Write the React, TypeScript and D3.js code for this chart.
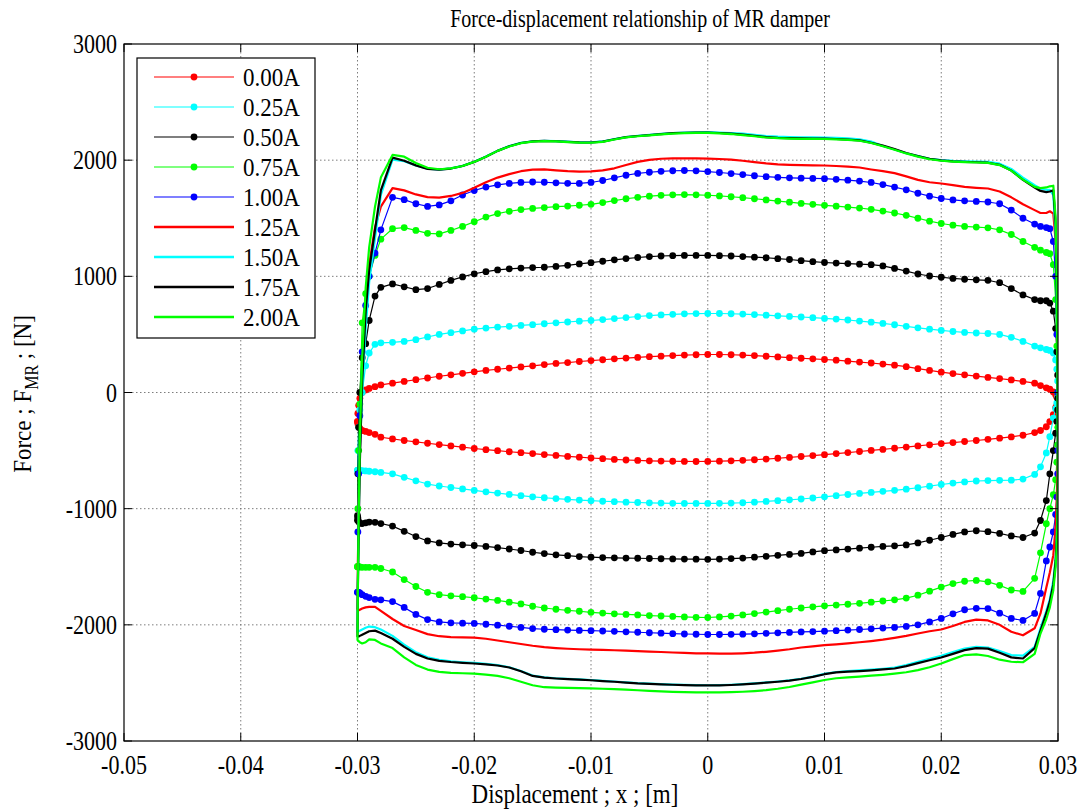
import React from "react";
import * as d3 from "d3";

const W = 1083;
const H = 811;
const PL = 124, PR = 1058, PT = 44, PB = 741;

const X_TICKS = [-0.05, -0.04, -0.03, -0.02, -0.01, 0, 0.01, 0.02, 0.03];
const X_TICK_LABELS = ["-0.05", "-0.04", "-0.03", "-0.02", "-0.01", "0", "0.01", "0.02", "0.03"];
const Y_TICKS = [-3000, -2000, -1000, 0, 1000, 2000, 3000];
const Y_TICK_LABELS = ["-3000", "-2000", "-1000", "0", "1000", "2000", "3000"];

// displacement grid (m), shared by every branch, left to right
const X_GRID = [
  -0.03, -0.02997, -0.0299, -0.0298, -0.0296, -0.0293, -0.029, -0.0285,
  -0.028, -0.027, -0.026, -0.025, -0.024, -0.023, -0.022, -0.021, -0.02, -0.019, -0.018, -0.017, -0.016, -0.015, -0.014,
  -0.013, -0.012, -0.011, -0.01, -0.009, -0.008, -0.007, -0.006, -0.005, -0.004, -0.003, -0.002, -0.001,
  0,
  0.001, 0.002, 0.003, 0.004, 0.005, 0.006, 0.007, 0.008, 0.009, 0.01, 0.011, 0.012, 0.013, 0.014,
  0.015, 0.016, 0.017, 0.018, 0.019, 0.02, 0.021, 0.022, 0.023, 0.024, 0.025, 0.026, 0.027, 0.028,
  0.0285, 0.029, 0.0293, 0.0296, 0.0298, 0.0299, 0.02997, 0.03,
];

// 0.00A
const A000_UP = [
  -250, -180, -110, -50, 0, 22, 35, 50,
  65, 80, 95, 110, 125, 140, 152, 165, 178, 190, 200, 210, 220, 230, 240, 250, 258, 267, 275, 282, 290, 296, 302, 308, 313, 318, 322, 325,
  327,
  327, 325, 322, 318, 312, 306, 300, 295, 290, 284, 278, 270, 262, 254, 245, 235, 222, 205, 190, 175, 163, 152, 141, 130, 120, 108, 95, 80,
  60, 40, 28, 5, -20, -40, -60, -80,
];
const A000_LO = [
  -250, -270, -290, -310, -327, -335, -345, -360,
  -385, -400, -413, -425, -437, -448, -460, -471, -482, -492, -501, -510, -518, -526, -534, -542, -550, -557, -564, -570, -576, -581, -585, -588, -590, -592, -593, -594,
  -593,
  -591, -588, -584, -579, -573, -566, -559, -551, -543, -535, -526, -517, -508, -499, -490, -480, -470, -460, -450, -440, -431, -422, -413, -403, -393, -382, -368, -345,
  -327, -295, -250, -190, -130, -110, -95, -80,
];
// 0.25A
const A025_UP = [
  -670, -500, -300, -150, 0, 230, 340, 415,
  428, 432, 440, 455, 478, 500, 515, 530, 545, 555, 563, 570, 577, 584, 592, 600, 607, 614, 620, 628, 636, 645, 654, 662, 668, 673, 677, 679,
  680,
  680, 678, 675, 671, 666, 660, 655, 650, 644, 638, 632, 624, 615, 605, 595, 583, 570, 557, 545, 534, 525, 517, 512, 508, 500, 475, 440, 400,
  385, 370, 362, 340, 280, 200, 100, 0,
];
const A025_LO = [
  -670, -670, -670, -671, -672, -675, -678, -682,
  -688, -700, -730, -760, -788, -805, -818, -830, -843, -855, -866, -877, -888, -898, -906, -913, -920, -926, -931, -936, -940, -944, -947, -950, -952, -954, -955, -955,
  -955,
  -954, -952, -949, -944, -938, -931, -924, -917, -908, -898, -888, -878, -869, -860, -851, -842, -832, -820, -806, -792, -780, -770, -762, -758, -756, -755, -745, -705,
  -640, -520, -380, -220, -140, -90, -40, 0,
];
// 0.50A
const A050_UP = [
  -1100, -700, -300, 0, 300, 420, 620, 830,
  905, 935, 910, 885, 895, 930, 965, 995, 1022, 1040, 1055, 1065, 1071, 1075, 1078, 1085, 1095, 1107, 1118, 1130, 1142, 1153, 1162, 1170, 1175, 1178, 1180, 1180,
  1180,
  1178, 1175, 1170, 1165, 1160, 1152, 1145, 1135, 1126, 1119, 1114, 1110, 1105, 1100, 1090, 1068, 1045, 1020, 1003, 992, 982, 975, 970, 966, 945, 895, 840, 800,
  790, 790, 770, 700, 550, 350, 150, -50,
];
const A050_LO = [
  -1060, -1080, -1110, -1125, -1128, -1122, -1115, -1118,
  -1128, -1150, -1195, -1240, -1278, -1295, -1305, -1311, -1317, -1325, -1335, -1347, -1360, -1375, -1387, -1397, -1405, -1412, -1418, -1421, -1423, -1425, -1427, -1429, -1431, -1433, -1434, -1435,
  -1436,
  -1434, -1430, -1425, -1418, -1410, -1402, -1394, -1385, -1372, -1362, -1355, -1348, -1340, -1332, -1325, -1320, -1312, -1295, -1272, -1248, -1222, -1200, -1190, -1198, -1213, -1235, -1248, -1210,
  -1102, -930, -700, -500, -350, -250, -150, -50,
];
// 0.75A
const A075_UP = [
  -1500, -1000, -500, -100, 600, 850, 1000, 1180,
  1320, 1410, 1420, 1395, 1370, 1365, 1395, 1430, 1470, 1510, 1540, 1560, 1575, 1585, 1592, 1600, 1605, 1612, 1620, 1635, 1652, 1668, 1680, 1690, 1697, 1702, 1704, 1702,
  1698,
  1692, 1685, 1677, 1668, 1658, 1648, 1638, 1628, 1620, 1611, 1604, 1596, 1588, 1577, 1562, 1545, 1525, 1500, 1475, 1455, 1440, 1430, 1424, 1418, 1400, 1360, 1300, 1250,
  1225, 1205, 1195, 1100, 800, 400, 0, -300,
];
const A075_LO = [
  -1500, -1500, -1500, -1502, -1505, -1505, -1505, -1505,
  -1515, -1545, -1610, -1670, -1720, -1740, -1750, -1758, -1767, -1778, -1790, -1805, -1820, -1840, -1855, -1866, -1875, -1883, -1892, -1899, -1905, -1910, -1915, -1920, -1924, -1928, -1932, -1935,
  -1937,
  -1932, -1925, -1915, -1903, -1890, -1878, -1866, -1855, -1845, -1836, -1830, -1823, -1815, -1805, -1795, -1785, -1770, -1745, -1710, -1675, -1645, -1625, -1618, -1630, -1660, -1700, -1712, -1600,
  -1380, -1130, -1000, -880, -750, -600, -450, -300,
];
// 1.00A
const A100_UP = [
  -1720, -1200, -700, -200, 350, 750, 1000, 1200,
  1400, 1680, 1660, 1625, 1602, 1615, 1650, 1700, 1739, 1768, 1788, 1800, 1808, 1812, 1810, 1805, 1801, 1800, 1808, 1825, 1848, 1870, 1886, 1896, 1904, 1909, 1911, 1908,
  1902,
  1894, 1885, 1876, 1866, 1858, 1852, 1848, 1845, 1843, 1841, 1835, 1828, 1820, 1808, 1790, 1768, 1745, 1715, 1690, 1670, 1658, 1650, 1645, 1640, 1625, 1570, 1500, 1450,
  1430, 1420, 1410, 1300, 1000, 500, 0, -500,
];
const A100_LO = [
  -1720, -1720, -1720, -1725, -1740, -1755, -1765, -1780,
  -1785, -1800, -1850, -1910, -1955, -1975, -1983, -1986, -1988, -1995, -2003, -2012, -2022, -2032, -2038, -2042, -2045, -2048, -2050, -2053, -2056, -2060, -2064, -2068, -2072, -2076, -2079, -2081,
  -2083,
  -2083, -2082, -2080, -2077, -2073, -2069, -2065, -2061, -2058, -2055, -2050, -2045, -2040, -2034, -2028, -2022, -2014, -2000, -1975, -1945, -1905, -1870, -1858, -1860, -1900, -1945, -1962, -1902,
  -1730, -1450, -1330, -1200, -1050, -900, -700, -500,
];
// 1.25A
const A125_UP = [
  -1860, -1500, -1000, -500, 100, 700, 1100, 1420,
  1600, 1760, 1740, 1705, 1682, 1678, 1692, 1718, 1762, 1810, 1850, 1880, 1905, 1918, 1920, 1912, 1905, 1902, 1903, 1912, 1930, 1958, 1985, 2003, 2012, 2015, 2016, 2016,
  2014,
  2010, 2004, 1995, 1983, 1972, 1964, 1960, 1957, 1955, 1954, 1950, 1945, 1937, 1920, 1905, 1888, 1860, 1830, 1810, 1799, 1785, 1770, 1762, 1756, 1730, 1680, 1620, 1570,
  1545, 1545, 1560, 1540, 1300, 900, 300, -300,
];
const A125_LO = [
  -1860, -1870, -1875, -1870, -1860, -1850, -1845, -1845,
  -1880, -1950, -2010, -2045, -2080, -2098, -2105, -2108, -2110, -2120, -2135, -2150, -2165, -2180, -2192, -2200, -2206, -2210, -2213, -2216, -2219, -2222, -2226, -2230, -2234, -2238, -2242, -2245,
  -2246,
  -2248, -2248, -2245, -2240, -2232, -2222, -2210, -2195, -2185, -2175, -2168, -2160, -2150, -2140, -2128, -2112, -2095, -2075, -2055, -2040, -2010, -1975, -1955, -1962, -2000, -2060, -2090, -2030,
  -1902, -1678, -1550, -1400, -1150, -900, -600, -300,
];
// 1.50A
const A150_UP = [
  -2060, -1650, -1100, -500, 0, 550, 950, 1330,
  1700, 2005, 1992, 1955, 1926, 1919, 1929, 1951, 1986, 2031, 2081, 2121, 2149, 2163, 2167, 2164, 2159, 2154, 2153, 2161, 2181, 2199, 2209, 2217, 2227, 2234, 2238, 2240,
  2241,
  2238, 2234, 2228, 2219, 2208, 2202, 2199, 2197, 2196, 2195, 2192, 2187, 2180, 2160, 2122, 2092, 2060, 2035, 2012, 2001, 1994, 1990, 1988, 1985, 1970, 1925, 1850, 1785,
  1755, 1745, 1745, 1700, 1350, 700, -100, -800,
];
const A150_LO = [
  -2060, -2058, -2055, -2050, -2040, -2025, -2015, -2020,
  -2040, -2095, -2170, -2235, -2280, -2302, -2315, -2322, -2328, -2336, -2347, -2365, -2398, -2437, -2452, -2460, -2465, -2470, -2475, -2482, -2488, -2495, -2502, -2506, -2510, -2514, -2517, -2519,
  -2520,
  -2519, -2516, -2511, -2504, -2496, -2488, -2478, -2464, -2446, -2422, -2406, -2398, -2392, -2386, -2378, -2368, -2346, -2318, -2292, -2266, -2235, -2205, -2190, -2195, -2225, -2260, -2265, -2190,
  -2030, -1880, -1780, -1620, -1420, -1220, -980, -800,
];
// 1.75A
const A175_UP = [
  -2100, -1700, -1200, -600, 100, 700, 1050, 1400,
  1740, 2022, 1995, 1955, 1925, 1918, 1928, 1950, 1985, 2030, 2080, 2120, 2148, 2162, 2166, 2163, 2158, 2153, 2152, 2160, 2180, 2198, 2208, 2215, 2225, 2232, 2236, 2238,
  2238,
  2234, 2228, 2220, 2210, 2198, 2192, 2189, 2187, 2186, 2185, 2182, 2177, 2170, 2150, 2125, 2095, 2062, 2035, 2012, 1998, 1990, 1985, 1982, 1978, 1960, 1910, 1830, 1765,
  1735, 1725, 1730, 1740, 1450, 800, 0, -700,
];
const A175_LO = [
  -2100, -2100, -2100, -2095, -2085, -2070, -2055, -2050,
  -2070, -2120, -2190, -2250, -2290, -2310, -2320, -2327, -2333, -2340, -2350, -2367, -2400, -2440, -2455, -2462, -2467, -2472, -2477, -2484, -2490, -2497, -2504, -2508, -2512, -2516, -2519, -2521,
  -2522,
  -2521, -2518, -2513, -2506, -2498, -2490, -2480, -2466, -2448, -2425, -2410, -2403, -2398, -2392, -2384, -2376, -2355, -2330, -2305, -2281, -2250, -2218, -2200, -2205, -2240, -2280, -2290, -2200,
  -2049, -1900, -1800, -1650, -1450, -1250, -1000, -700,
];
// 2.00A
const A200_UP = [
  -2130, -1700, -1100, -400, 300, 900, 1250, 1600,
  1850, 2045, 2030, 1975, 1935, 1922, 1930, 1950, 1985, 2030, 2080, 2118, 2146, 2160, 2164, 2161, 2156, 2151, 2150, 2158, 2178, 2196, 2206, 2213, 2222, 2229, 2233, 2235,
  2235,
  2231, 2225, 2216, 2206, 2195, 2189, 2186, 2184, 2183, 2182, 2179, 2174, 2167, 2148, 2120, 2090, 2058, 2030, 2008, 1995, 1988, 1983, 1980, 1976, 1958, 1910, 1832, 1770,
  1760, 1765, 1775, 1780, 1500, 900, 0, -700,
];
const A200_LO = [
  -2130, -2135, -2140, -2150, -2160, -2150, -2125, -2130,
  -2160, -2200, -2280, -2345, -2385, -2405, -2413, -2417, -2420, -2428, -2440, -2460, -2490, -2520, -2537, -2540, -2542, -2544, -2547, -2550, -2554, -2558, -2563, -2568, -2573, -2577, -2580, -2582,
  -2582,
  -2582, -2580, -2576, -2570, -2562, -2550, -2535, -2515, -2495, -2475, -2460, -2452, -2445, -2438, -2430, -2420, -2408, -2390, -2365, -2333, -2295, -2260, -2255, -2268, -2300, -2318, -2322, -2250,
  -2075, -1950, -1850, -1700, -1500, -1300, -1000, -700,
];

const LABELS = ["0.00A", "0.25A", "0.50A", "0.75A", "1.00A", "1.25A", "1.50A", "1.75A", "2.00A"];
const COLORS = ["#ff0000", "#00ffff", "#000000", "#00ff00", "#0000ff", "#ff0000", "#00ffff", "#000000", "#00ff00"];
const MARKED = [true, true, true, true, true, false, false, false, false];
const UPPER = [A000_UP, A025_UP, A050_UP, A075_UP, A100_UP, A125_UP, A150_UP, A175_UP, A200_UP];
const LOWER = [A000_LO, A025_LO, A050_LO, A075_LO, A100_LO, A125_LO, A150_LO, A175_LO, A200_LO];

const FONT = "'Liberation Serif', 'Times New Roman', serif";

function SText(props: { x: number; y: number; sy: number; size: number; anchor?: string; children: React.ReactNode }) {
  const { x, y, sy, size, anchor, children } = props;
  return (
    <text transform={`translate(${x},${y}) scale(1,${sy})`} textAnchor={anchor || "start"} fontSize={size} fill="#000">
      {children}
    </text>
  );
}

export default function App() {
  const x = d3.scaleLinear().domain([-0.05, 0.03]).range([PL, PR]);
  const y = d3.scaleLinear().domain([-3000, 3000]).range([PB, PT]);
  const line = d3
    .line<[number, number]>()
    .x((d) => x(d[0]))
    .y((d) => y(d[1]));

  const series = LABELS.map((label, i) => {
    const up: [number, number][] = X_GRID.map((xv, k) => [xv, UPPER[i][k]]);
    const lo: [number, number][] = X_GRID.map((xv, k) => [xv, LOWER[i][k]]).reverse() as [number, number][];
    const pts = [...up, ...lo];
    return { label, color: COLORS[i], marked: MARKED[i], pts, d: (line(pts) || "") + "Z" };
  });

  const tickLen = 8;
  const legX = 137, legY = 58, legW = 178, legH = 280;

  return (
    <svg width={W} height={H} style={{ position: "absolute", left: 0, top: 0, background: "#fff" }} fontFamily={FONT}>
      <rect x={0} y={0} width={W} height={H} fill="#fff" />
      <defs>
        <clipPath id="plotclip">
          <rect x={PL} y={PT} width={PR - PL} height={PB - PT} />
        </clipPath>
      </defs>
      {/* grid */}
      <g stroke="#6e6e6e" strokeWidth={0.9} strokeDasharray="1.5,2.5">
        {X_TICKS.slice(1, -1).map((t) => (
          <line key={"gx" + t} x1={x(t)} x2={x(t)} y1={PT} y2={PB} />
        ))}
        {Y_TICKS.slice(1, -1).map((t) => (
          <line key={"gy" + t} x1={PL} x2={PR} y1={y(t)} y2={y(t)} />
        ))}
      </g>
      {/* curves */}
      <g clipPath="url(#plotclip)">
        {series.map((s) => (
          <g key={s.label}>
            <path d={s.d} fill="none" stroke={s.color} strokeWidth={s.marked ? 1.2 : 2.2} strokeLinejoin="round" />
            {s.marked &&
              s.pts.map((p, k) => <circle key={k} cx={x(p[0])} cy={y(p[1])} r={3.4} fill={s.color} />)}
          </g>
        ))}
      </g>
      {/* box and ticks */}
      <rect x={PL} y={PT} width={PR - PL} height={PB - PT} fill="none" stroke="#000" strokeWidth={1.2} />
      <g stroke="#000" strokeWidth={1}>
        {X_TICKS.map((t) => (
          <g key={"tx" + t}>
            <line x1={x(t)} x2={x(t)} y1={PB} y2={PB - tickLen} />
            <line x1={x(t)} x2={x(t)} y1={PT} y2={PT + tickLen} />
          </g>
        ))}
        {Y_TICKS.map((t) => (
          <g key={"ty" + t}>
            <line x1={PL} x2={PL + tickLen} y1={y(t)} y2={y(t)} />
            <line x1={PR} x2={PR - tickLen} y1={y(t)} y2={y(t)} />
          </g>
        ))}
      </g>
      {/* tick labels */}
      {X_TICKS.map((t, i) => (
        <SText key={"lx" + t} x={x(t)} y={PB + 33} sy={1.25} size={22} anchor="middle">
          {X_TICK_LABELS[i]}
        </SText>
      ))}
      {Y_TICKS.map((t, i) => (
        <SText key={"ly" + t} x={PL - 7} y={y(t) + 9} sy={1.25} size={22} anchor="end">
          {Y_TICK_LABELS[i]}
        </SText>
      ))}
      {/* title and axis labels */}
      <SText x={640} y={27} sy={1.25} size={20} anchor="middle">
        Force-displacement relationship of MR damper
      </SText>
      <SText x={575} y={803} sy={1.2} size={23} anchor="middle">
        Displacement ; x ; [m]
      </SText>
      <text transform="translate(31,394) rotate(-90) scale(1,1.12)" textAnchor="middle" fontSize={23} fill="#000">
        Force ; F<tspan fontSize={16} dy={6}>MR</tspan>
        <tspan dy={-6}> ; [N]</tspan>
      </text>
      {/* legend */}
      <rect x={legX} y={legY} width={legW} height={legH} fill="#fff" stroke="#000" strokeWidth={1.2} />
      {series.map((s, i) => {
        const ly = 77 + i * 30;
        return (
          <g key={"leg" + s.label}>
            <line x1={154} x2={234} y1={ly} y2={ly} stroke={s.color} strokeWidth={s.marked ? 1.2 : 2.4} />
            {s.marked && <circle cx={194} cy={ly} r={3.4} fill={s.color} />}
            <SText x={243} y={ly + 9} sy={1.1} size={23}>
              {s.label}
            </SText>
          </g>
        );
      })}
    </svg>
  );
}
